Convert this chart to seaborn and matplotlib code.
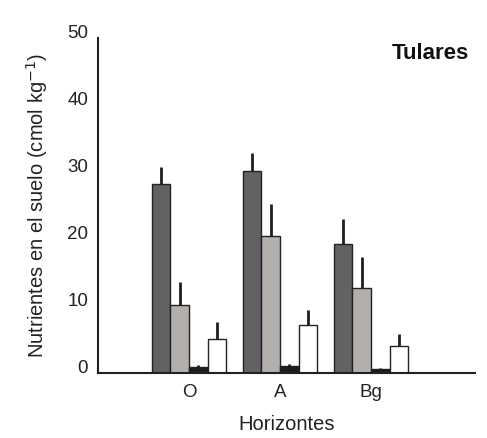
import pandas as pd
import numpy as np
import seaborn as sns
import matplotlib.pyplot as plt

sns.set_theme(style="white")
plt.rcParams['font.family'] = ['Liberation Sans', 'DejaVu Sans']

horizontes = ["O", "A", "Bg"]
nutrientes = ["Ca", "Mg", "Na", "K"]
valores = {
    "Ca": [28.2, 30.1, 19.3],
    "Mg": [10.1, 20.4, 12.7],
    "Na": [0.9, 1.0, 0.6],
    "K": [5.1, 7.2, 4.0],
}
errores = {
    "Ca": [2.5, 2.8, 3.7],
    "Mg": [3.5, 4.8, 4.6],
    "Na": [0.3, 0.3, 0.2],
    "K": [2.5, 2.2, 1.9],
}
colores = ["#616266", "#b3afac", "#1c1c1c", "#ffffff"]

rows = []
for n in nutrientes:
    for h, v in zip(horizontes, valores[n]):
        rows.append({"Horizonte": h, "Nutriente": n, "Valor": v})
df = pd.DataFrame(rows)

fig = plt.figure(figsize=(4.87, 4.38), dpi=100)
ax = fig.add_axes([0.201, 0.148, 0.774, 0.765])

sns.barplot(
    data=df, x="Horizonte", y="Valor", hue="Nutriente",
    order=horizontes, hue_order=nutrientes,
    palette=colores, edgecolor="#222222", linewidth=1.0,
    width=0.82, errorbar=None, legend=False, ax=ax
)

# barras de error solo hacia arriba
for n, cont in zip(nutrientes, ax.containers):
    xs = [p.get_x() + p.get_width() / 2 for p in cont.patches]
    hs = [p.get_height() for p in cont.patches]
    err = errores[n]
    ax.errorbar(xs, hs, yerr=[np.zeros(len(err)), err], fmt="none",
                ecolor="#1e1e1e", elinewidth=2.0, capsize=0, zorder=1)

ax.set_xlim(-1.0, 3.14)
ax.set_ylim(0, 50)
ax.set_yticks([0, 10, 20, 30, 40, 50])
sns.despine(ax=ax)
for s in ["left", "bottom"]:
    ax.spines[s].set_color("#222222")
    ax.spines[s].set_linewidth(1.5)
ax.tick_params(axis="both", length=4, width=1, color="#222222",
               labelsize=13.5, labelcolor="#222222", direction="out")
ax.tick_params(axis="x", length=5, pad=3)
ax.tick_params(axis="y", pad=3)
for lbl in ax.get_yticklabels():
    lbl.set_va("baseline")

ax.set_xlabel("Horizontes", fontsize=14.5, color="#222222", labelpad=10)
ax.set_ylabel("Nutrientes en el suelo (cmol kg$^{-1}$)", fontsize=14.5,
              color="#222222", labelpad=12)
ax.text(0.985, 0.985, "Tulares", transform=ax.transAxes, ha="right", va="top",
        fontsize=16, fontweight="bold", color="#111111")

plt.savefig("out.png", dpi=100)
plt.close()
